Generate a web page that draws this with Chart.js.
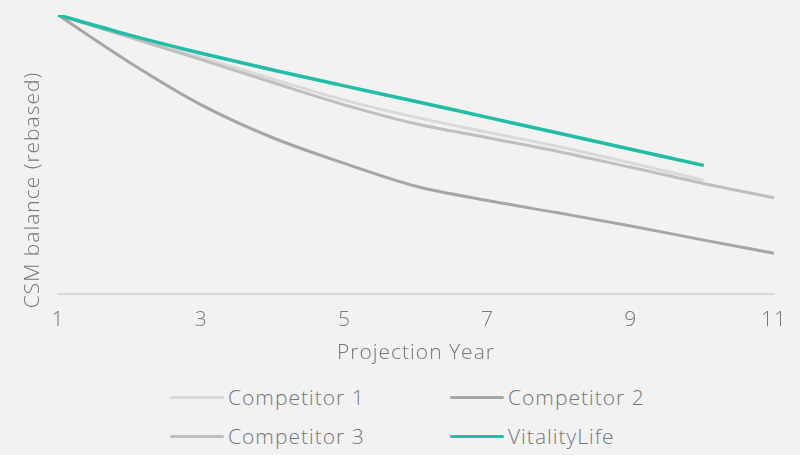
<!DOCTYPE html>
<html>
<head>
<meta charset="utf-8">
<script src="https://cdn.jsdelivr.net/npm/chart.js@4/dist/chart.umd.min.js"></script>
<style>
  html, body { margin: 0; padding: 0; background: #f2f2f2; }
  #wrap { position: relative; width: 800px; height: 455px; overflow: hidden; }
  #chartBox { position: absolute; left: 0; top: 0; width: 800px; height: 370px; }
  #legend { position: absolute; left: 170px; top: 381px; width: 560px;
    display: grid; grid-template-columns: 280px 280px; row-gap: 7px;
    font-family: 'Open Sans', sans-serif; font-weight: 300; font-size: 21px;
    letter-spacing: 1px; color: #767676; }
  .item { display: flex; align-items: center; height: 32px; }
  .swatch { width: 54px; height: 3px; margin-right: 4px; border-radius: 2px; }
</style>
</head>
<body>
<div id="wrap">
  <div id="chartBox"><canvas id="c"></canvas></div>
  <div id="legend"></div>
</div>
<script>
const years = [1, 2, 3, 4, 5, 6, 7, 8, 9, 10, 11];
const seriesNames = ['Competitor 1', 'Competitor 2', 'Competitor 3', 'VitalityLife'];
const competitor1 = [100, 92.3, 84.8, 77, 69.5, 63.3, 58, 52.8, 47, 40.9];
const competitor2 = [100, 83, 67.8, 56, 46.8, 38.6, 33.5, 29, 24.4, 19.4, 14.6];
const competitor3 = [100, 92, 84, 75.8, 67.8, 61, 56, 51, 45.4, 39.7, 34.5];
const vitality = [100, 92.8, 86.3, 80.3, 74.6, 69, 63.3, 57.6, 51.9, 46.2];
const xTicks = [1, 3, 5, 7, 9, 11];

const colors = ['#d9d9d9', '#a6a6a6', '#bfbfbf', '#20bea5'];
const textColor = '#767676';
const fontFamily = "'Open Sans', sans-serif";

function toPoints(vals) {
  return vals.map((v, i) => ({ x: years[i], y: v }));
}

const allSeries = [competitor1, competitor2, competitor3, vitality];
const datasets = allSeries.map((vals, i) => ({
  label: seriesNames[i],
  data: toPoints(vals),
  borderColor: colors[i],
  backgroundColor: colors[i],
  borderWidth: i === 3 ? 3.5 : 3,
  pointRadius: 0,
  cubicInterpolationMode: 'monotone',
  borderCapStyle: 'round',
  order: 4 - i
}));

// wider letters, closer to the original typeface
const spacing = {
  id: 'spacing',
  beforeDraw(chart) { chart.ctx.letterSpacing = '1px'; }
};

// y axis title drawn by hand so it sits where the original puts it
const yTitle = {
  id: 'yTitle',
  afterDraw(chart) {
    const ctx = chart.ctx;
    ctx.save();
    ctx.translate(33, 190);
    ctx.rotate(-Math.PI / 2);
    ctx.letterSpacing = '1px';
    ctx.font = '300 21px ' + fontFamily;
    ctx.fillStyle = textColor;
    ctx.textAlign = 'center';
    ctx.textBaseline = 'middle';
    ctx.fillText('CSM balance (rebased)', 0, 0);
    ctx.restore();
  }
};

const chart = new Chart(document.getElementById('c'), {
  type: 'line',
  data: { datasets: datasets },
  options: {
    responsive: true,
    maintainAspectRatio: false,
    animation: false,
    layout: { padding: { top: 15, right: 26, left: 0, bottom: 0 } },
    plugins: { legend: { display: false }, tooltip: { enabled: false } },
    scales: {
      x: {
        type: 'linear',
        min: 1,
        max: 11,
        afterBuildTicks: (scale) => { scale.ticks = xTicks.map(v => ({ value: v })); },
        afterFit: (scale) => { scale.height = 76; },
        grid: { display: false },
        border: { display: true, color: '#d9d9d9', width: 2 },
        ticks: { color: textColor, font: { family: fontFamily, size: 21, weight: 300 }, padding: 5, maxRotation: 0 },
        title: { display: true, text: 'Projection Year', color: textColor,
          font: { family: fontFamily, size: 21, weight: 300 }, padding: { top: 1 } }
      },
      y: {
        min: 0,
        max: 100,
        afterFit: (scale) => { scale.width = 58; },
        grid: { display: false },
        border: { display: false },
        ticks: { display: false }
      }
    }
  },
  plugins: [spacing, yTitle]
});

const legendEl = document.getElementById('legend');
chart.data.datasets.forEach(ds => {
  const item = document.createElement('div');
  item.className = 'item';
  const sw = document.createElement('span');
  sw.className = 'swatch';
  sw.style.background = ds.borderColor;
  const txt = document.createElement('span');
  txt.textContent = ds.label;
  item.appendChild(sw);
  item.appendChild(txt);
  legendEl.appendChild(item);
});
</script>
</body>
</html>
